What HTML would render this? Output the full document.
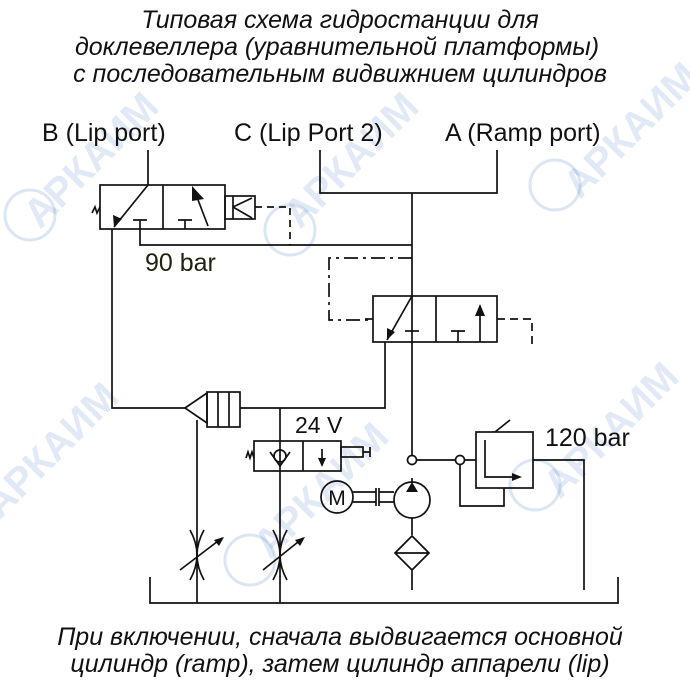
<!DOCTYPE html>
<html><head><meta charset="utf-8"><style>
body{margin:0;background:#fff;}
svg{display:block}
.t{font-family:"Liberation Sans",sans-serif;font-style:italic;fill:#111;}
</style></head><body>
<svg width="690" height="690" viewBox="0 0 690 690" xmlns="http://www.w3.org/2000/svg">
<rect width="690" height="690" fill="#fff"/>
<g opacity="0.18" fill="none" stroke="#3a6fc4" stroke-width="3">
<circle cx="30" cy="215" r="25"/><circle cx="290" cy="230" r="25"/><circle cx="555" cy="185" r="25"/><circle cx="250" cy="560" r="25"/><circle cx="535" cy="485" r="25"/>
</g>
<g font-family="Liberation Sans,sans-serif" font-weight="bold" font-size="40" fill="#3a6fc4" opacity="0.15">
<text transform="translate(40,230) rotate(-45)">АРКАИМ</text>
<text transform="translate(300,230) rotate(-45)">АРКАИМ</text>
<text transform="translate(580,200) rotate(-45)">АРКАИМ</text>
<text transform="translate(0,520) rotate(-45)">АРКАИМ</text>
<text transform="translate(270,560) rotate(-45)">АРКАИМ</text>
<text transform="translate(560,500) rotate(-45)">АРКАИМ</text>
</g>
<g class="t" font-size="25" text-anchor="middle">
<text x="340" y="28" class="t">Типовая схема гидростанции для</text>
<text x="337" y="55" class="t">доклевеллера (уравнительной платформы)</text>
<text x="340" y="82" class="t">с последовательным видвижнием цилиндров</text>
<text x="340" y="645" class="t">При включении, сначала выдвигается основной</text>
<text x="340" y="672" class="t">цилиндр (ramp), затем цилиндр аппарели (lip)</text>
</g>
<g font-family="Liberation Sans,sans-serif" font-size="25" fill="#111">
<text x="42" y="141">B (Lip port)</text>
<text x="234" y="141">C (Lip Port 2)</text>
<text x="445" y="141">A (Ramp port)</text>
<text x="145" y="271" fill="#221">90 bar</text>
<text x="295" y="433" font-size="23">24 V</text>
<text x="545" y="446">120 bar</text>
</g>
<g fill="none" stroke="#111" stroke-width="1.7">
<path d="M148 150V185M320 150V193H497V150M412 193V455"/>
<rect x="100" y="185" width="125" height="44"/><path d="M163 185V229"/>
<path d="M148 185L114 227"/><path d="M133 220H147M140 220V245H412"/>
<path d="M178 220H192M185 220V229"/><path d="M208 226L195 192"/>
<rect x="225" y="196" width="30" height="23"/><path d="M233 196V219M233 207L252 198M233 207L252 218"/>
<path d="M92 213L95 207L97 213L100 207"/>
<path d="M255 207H290V245" stroke-dasharray="7,5"/>
<rect x="373" y="296" width="124" height="46"/><path d="M436 296V342"/>
<path d="M412 296L387 340"/><path d="M405 331H419"/>
<path d="M451 331H465M458 331V342"/><path d="M480 342V306"/>
<path d="M365 319H373"/>
<path d="M412 258H329V320H373" stroke-dasharray="14,5,3,5"/>
<path d="M497 319H532V345" stroke-dasharray="8,5"/>
<path d="M112 229V408H185M385 342V408H240"/>
<path d="M185 408L207 393V423Z"/><rect x="207" y="392" width="33" height="35"/><path d="M218 392V427M229 392V427M197 420V603"/>
<path d="M280 408V603"/>
<rect x="254" y="441" width="87" height="30"/><path d="M303 441V471M322 449V465"/>
<circle cx="280" cy="456" r="6"/><path d="M270 452L280 466L290 452"/>
<rect x="341" y="447" width="22" height="10"/><path d="M363 452H370M370 447V457"/>
<path d="M246 458L248 452L250 458L252 452L254 458"/>
<circle cx="412" cy="460" r="4.5" fill="#fff"/>
<path d="M417 460H455"/><circle cx="460" cy="460" r="4.5" fill="#fff"/>
<path d="M465 460H476M460 465V506H504V488"/>
<rect x="476" y="432" width="57" height="56"/>
<path d="M485 440V477H515"/><path d="M495 432L510 420"/>
<path d="M533 460H584V590"/>
<circle cx="412" cy="500" r="18"/><path d="M412 478V482"/>
<circle cx="337" cy="497" r="16"/>
<path d="M353 492H376M353 502H376M376 488V506M379 488V506M379 492H394M379 502H394"/>
<path d="M412 518V535M395 553L412 536L429 553L412 570ZM395 553H429M412 570V590"/>
<path d="M190 530Q204 555 190 580M204 530Q190 555 204 580M180 570L222 538"/>
<path d="M273 530Q287 555 273 580M287 530Q273 555 287 580M263 570L303 538"/>
<path d="M150 577V603H618V577"/>
</g>
<g fill="#111">
<path d="M114 227L113 215L122 219Z"/>
<path d="M192 186L204 199L192 201Z" />
<path d="M387 340L387 328L395 332Z"/>
<path d="M480 304L475 316H485Z"/>
<path d="M322 467L318 458H326Z"/>
<path d="M412 482L406 492H418Z"/>
<path d="M522 477L512 473V481Z"/>
<path d="M224 537L214 540L219 546Z"/><path d="M305 537L295 540L300 546Z"/>
</g>
<text x="337" y="505" font-family="Liberation Sans,sans-serif" font-size="21" text-anchor="middle" fill="#111">M</text>
</svg>
</body></html>
